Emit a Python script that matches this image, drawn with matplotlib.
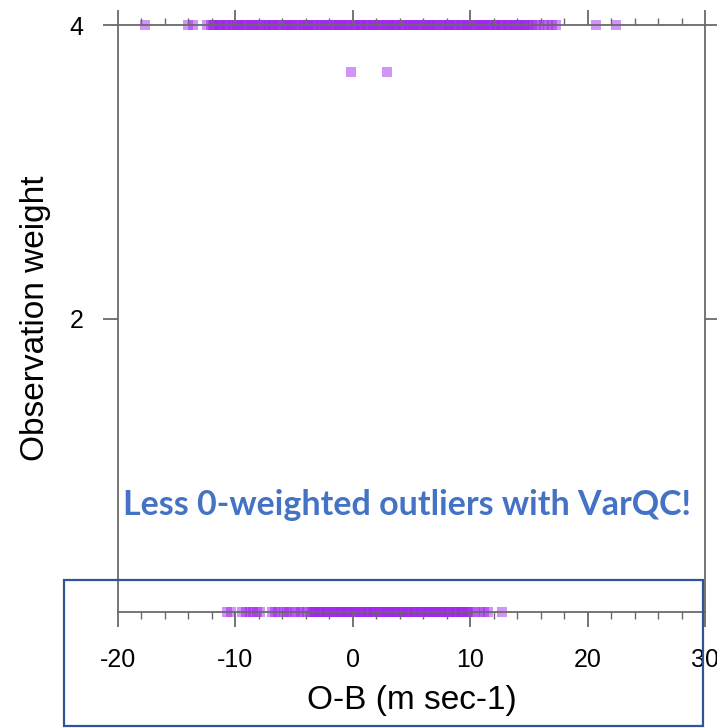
import matplotlib
matplotlib.use('Agg')
import matplotlib.pyplot as plt
from matplotlib.ticker import MultipleLocator
from matplotlib.patches import Rectangle

# O-B departures (m/s) grouped by the weight VarQC gave them
full_ob = [-17.7, -14.0, -13.6, -12.4, -12.1,
           -11.9, -11.6, -11.4, -11.2, -10.9, -10.6, -10.4, -10.1, -9.9, -9.7,
           -9.4, -9.1, -8.9, -8.6, -8.4, -8.2, -7.9, -7.6, -7.4, -7.1,
           -6.9, -6.7, -6.4, -6.1, -5.9, -5.6, -5.4, -5.2, -4.9, -4.6,
           -4.4, -4.1, -3.9, -3.7, -3.4, -3.1, -2.9, -2.6, -2.4, -2.2,
           -1.9, -1.6, -1.4, -1.1, -0.9, -0.7, -0.4, -0.1, 0.1, 0.4,
           0.6, 0.8, 1.1, 1.4, 1.6, 1.9, 2.1, 2.3, 2.6, 2.9,
           3.1, 3.4, 3.6, 3.8, 4.1, 4.4, 4.6, 4.9, 5.1, 5.3,
           5.6, 5.9, 6.1, 6.4, 6.6, 6.8, 7.1, 7.4, 7.6, 7.9,
           8.1, 8.3, 8.6, 8.9, 9.1, 9.4, 9.6, 9.8, 10.1, 10.4,
           10.6, 10.9, 11.1, 11.3, 11.6, 11.9, 12.1, 12.4, 12.6, 12.8,
           13.1, 13.4, 13.6, 13.9, 14.1, 14.3, 14.6, 14.9,
           15.3, 15.6, 15.9, 16.3, 16.6, 17.0, 17.3, 20.7, 22.4,
           # second batch, same core range
           -11.8, -11.3, -10.8, -10.2, -9.8, -9.3, -8.7, -8.3, -7.8, -7.2,
           -6.8, -6.3, -5.7, -5.3, -4.8, -4.2, -3.8, -3.3, -2.7, -2.3,
           -1.8, -1.2, -0.8, -0.3, 0.2, 0.7, 1.2, 1.7, 2.2, 2.8,
           3.2, 3.7, 4.2, 4.8, 5.2, 5.7, 6.2, 6.7, 7.2, 7.8,
           8.2, 8.7, 9.2, 9.7, 10.2, 10.8, 11.2, 11.7, 12.2, 12.7,
           13.2, 13.7, 14.2, 14.7, 15.0]
full_wt = 4.0

partial_ob = [-0.15, 2.9]
partial_wt = 3.68

rejected_ob = [-10.7, -10.4,
               -9.4, -9.1, -8.8, -8.5, -8.2, -7.9,
               -6.9, -6.4, -5.9, -5.4, -4.9, -4.4, -3.9,
               -3.5, -3.2, -3.0, -2.7, -2.5, -2.2, -2.0, -1.7, -1.5, -1.2,
               -1.0, -0.7, -0.5, -0.2, 0.0, 0.3, 0.5, 0.8, 1.0, 1.3,
               1.5, 1.8, 2.0, 2.3, 2.5, 2.8, 3.0, 3.3, 3.5, 3.8,
               4.0, 4.3, 4.5, 4.8, 5.0, 5.3, 5.5, 5.8, 6.0, 6.3,
               6.5, 6.8, 7.0, 7.3, 7.5, 7.8, 8.0, 8.3, 8.5, 8.8,
               9.0, 9.3, 9.5, 9.8, 10.0,
               10.4, 10.8, 11.2, 11.5, 12.7,
               # second batch in the busy part
               -6.6, -5.6, -4.6, -3.6,
               -3.3, -2.8, -2.3, -1.8, -1.3, -0.8, -0.3, 0.2, 0.7, 1.2,
               1.7, 2.2, 2.7, 3.2, 3.7, 4.2, 4.7, 5.2, 5.7, 6.2,
               6.7, 7.2, 7.7, 8.2, 8.7, 9.2, 9.7]
rejected_wt = 0.0

xticks = [-20, -10, 0, 10, 20, 30]
yticks = [2, 4]

plt.rcParams['font.family'] = ['Liberation Sans', 'DejaVu Sans']
plt.rcParams['axes.unicode_minus'] = False

fig = plt.figure(figsize=(7.17, 7.28), dpi=100)
ax = fig.add_axes([0.1646, 0.1593, 0.8187, 0.8063])

purple = '#a020f0'
for obs, wt in [(full_ob, full_wt), (partial_ob, partial_wt), (rejected_ob, rejected_wt)]:
    ax.scatter(obs, [wt] * len(obs), marker='s', s=62, color=purple,
               alpha=0.48, linewidths=0, clip_on=False, zorder=1)

ax.set_xlim(-20, 30)
ax.set_ylim(0, 4)
ax.set_xticks(xticks)
ax.xaxis.set_minor_locator(MultipleLocator(2))
ax.set_yticks(yticks)

grey = '#6a6a6a'
for side in ax.spines.values():
    side.set_color(grey)
    side.set_linewidth(1.3)

ax.tick_params(axis='x', which='major', direction='out', length=11, width=1.3,
               color=grey, top=True, labelsize=18, pad=15)
ax.tick_params(axis='x', which='minor', direction='out', length=5, width=1.0,
               color=grey, top=True)
ax.tick_params(axis='y', which='major', direction='out', length=11, width=1.3,
               color=grey, right=True, labelsize=18, pad=14)

ax.set_xlabel('O-B (m sec-1)', fontsize=24, labelpad=9)
ax.set_ylabel('Observation weight', fontsize=24, labelpad=13)

fig.text(0.567, 0.306, 'Less 0-weighted outliers with VarQC!', ha='center', va='center',
         fontsize=24.5, fontweight='bold', color='#4472c4', family=['Lato', 'DejaVu Sans'])

fig.patches.append(Rectangle((0.0893, 0.0027), 0.8912, 0.2006, transform=fig.transFigure,
                             fill=False, edgecolor='#2f5597', linewidth=1.6))

fig.savefig('out.png', dpi=100)
